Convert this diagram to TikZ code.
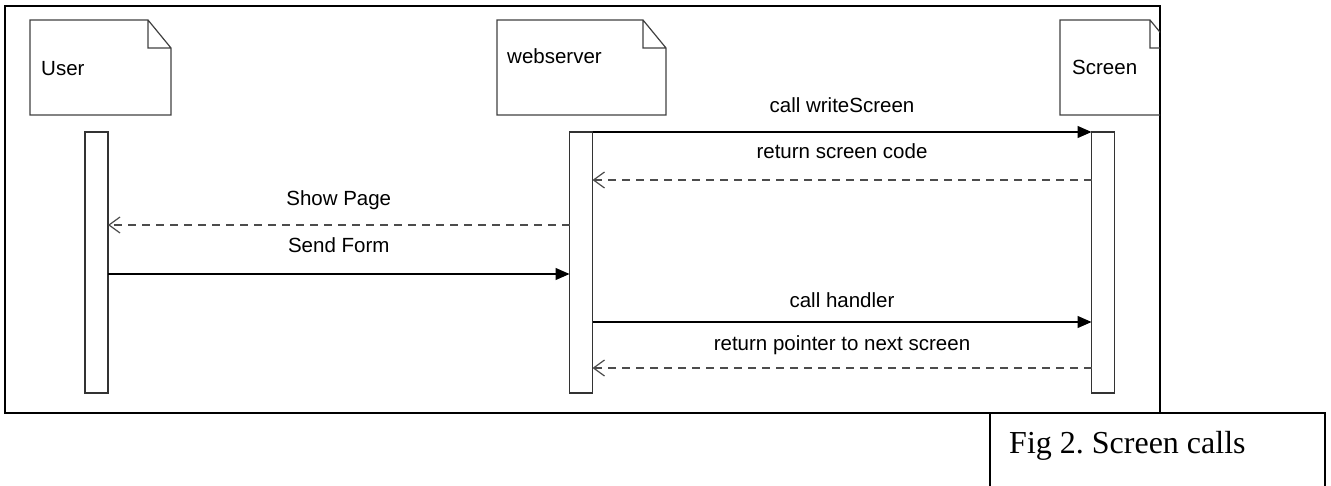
\documentclass[tikz,border=0pt]{standalone}
\usepackage{fontspec}
\setmainfont{Liberation Sans}
\newfontfamily\captionfont{Liberation Serif}
\usetikzlibrary{arrows.meta}
\frenchspacing

\begin{document}
\begin{tikzpicture}[x=1pt,y=-1pt,
    notestyle/.style={minimum width=#1,minimum height=95,inner sep=0,outer sep=0},
    barstyle/.style={draw=black!80,line width=1.2pt,minimum width=23,minimum height=261,inner sep=0,outer sep=0},
    callstyle/.style={line width=1.3pt,-{Triangle[length=14pt,width=12pt]}},
    returnstyle/.style={line width=1.3pt,draw=black!70,dash pattern=on 8pt off 6pt,
        -{Straight Barb[length=11pt,width=16pt,line width=1.2pt]}},
    msgstyle/.style={anchor=base,inner sep=0,font=\fontsize{20.5}{24}\selectfont}]

    \newcommand*{\foldw}{23}%
    \newcommand*{\foldh}{28}%

    \useasboundingbox (0,0) rectangle (1331,485);

    % frame and caption ↓
    \draw[line width=2pt] (990,413) -- (5,413) -- (5,6) -- (1160,6) -- (1160,413);
    \draw[line width=2pt] (990,490) -- (990,413) -- (1325,413) -- (1325,490);
    \node[anchor=base west,inner sep=0,font=\captionfont\fontsize{32}{38}\selectfont] (caption) at (1009,453) {Fig 2. Screen calls};

    % notes ↓
    \node[notestyle=141] (userNote) at (100.5,67.5) {};
    \node[notestyle=169] (webNote) at (581.5,67.5) {};
    \node[notestyle=113] (scrNote) at (1116.5,67.5) {};

    \begin{scope}
        \clip (5,6) rectangle (1160,413);
        \foreach \n in {userNote,webNote,scrNote}
            \draw[line width=1.2pt,draw=black!75] (\n.south west) -- (\n.north west)
            -- ([xshift=-\foldw]\n.north east) -- ([yshift=-\foldh]\n.north east) -- (\n.south east) -- cycle
            ([xshift=-\foldw]\n.north east) -- ([xshift=-\foldw,yshift=-\foldh]\n.north east) -- ([yshift=-\foldh]\n.north east);
    \end{scope}

    \node[msgstyle,anchor=base west] (userText) at (41,75) {User};
    \node[msgstyle,anchor=base west] (webText) at (507,63) {webserver};
    \node[msgstyle,anchor=base west] (scrText) at (1072,74) {Screen};

    % activation bars ↓
    \node[barstyle] (userBar) at (96.5,262.5) {};
    \node[barstyle] (webBar) at (581,262.5) {};
    \node[barstyle] (scrBar) at (1103,262.5) {};

    % calls ↓
    \foreach \dy/\from/\to/\gap/\txt in {
        0/webBar.north east/scrBar.north west/20/call writeScreen,
        142/userBar.north east/webBar.north west/22/Send Form,
        190/webBar.north east/scrBar.north west/15/call handler}
        \draw[callstyle] ([yshift=-\dy]\from) -- node[msgstyle,yshift=\gap] {\txt} ([yshift=-\dy]\to);

    % returns ↓
    \foreach \dy/\from/\to/\gap/\txt in {
        48/scrBar.north west/webBar.north east/22/return screen code,
        93/webBar.north west/userBar.north east/20/Show Page,
        236/scrBar.north west/webBar.north east/18/return pointer to next screen}
        \draw[returnstyle] ([yshift=-\dy]\from) -- node[msgstyle,yshift=\gap] {\txt} ([yshift=-\dy]\to);

\end{tikzpicture}
\end{document}
